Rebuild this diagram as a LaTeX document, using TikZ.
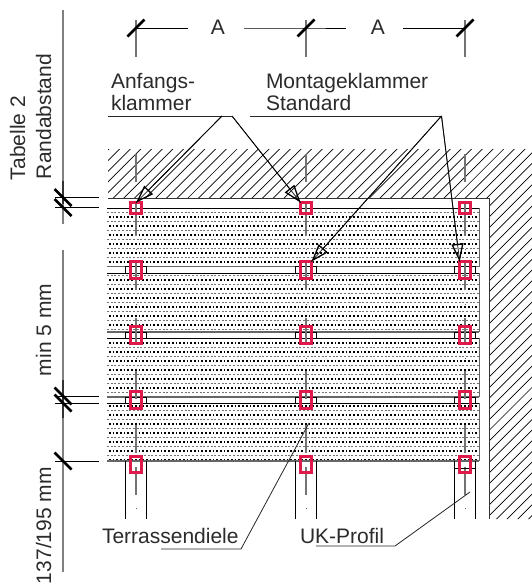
\documentclass[tikz,border=0pt]{standalone}
\usepackage{fontspec}
\setmainfont{Liberation Sans}
\usepackage{tikz}
\usetikzlibrary{arrows.meta,positioning}

\definecolor{klammerrot}{HTML}{E0194B}
\definecolor{textgrau}{HTML}{2B2B2B}

\tikzset{
	beschrift/.style={inner sep=0pt,outer sep=0pt,text=textgrau,anchor=base west,font=\fontsize{21}{22}\selectfont},
	beschriftblock/.style={beschrift,anchor=north west,align=left},
	klammer/.style={draw=klammerrot,line width=3.4pt,rectangle,inner sep=0pt,outer sep=0pt,minimum width=10.6pt},
	leader/.style={draw=black!85,line width=0.8pt},
	pfeil/.style={draw=black,line width=0.8pt,-{Triangle[open,length=18pt,width=12pt,line width=1.3pt]}},
	strich/.style={line width=2.6pt,black},
	mass/.style={black,line width=0.8pt},
	achse/.style={black!55,line width=1.1pt},
}

\begin{document}
\begin{tikzpicture}[x=1pt,y=-1pt]
	\useasboundingbox (0,0) rectangle (532,584);

	% wall
	\begin{scope}
		\clip (108,149) rectangle (532,198) (489,198) rectangle (532,519);
		\foreach \hx in {-6,...,80}
			\draw[black,line width=0.7pt] ({113.3+10.67*\hx-340},538) -- ({113.3+10.67*\hx+60},138);
	\end{scope}
	\draw[black!80,line width=1pt] (108,198) -- (489,198) -- (489,519);

	% planks
	\begin{scope}
		\clip (107,208) rectangle (479,267) (107,273) rectangle (479,332)
			(107,338) rectangle (479,397) (107,403) rectangle (479,461);
		\foreach \ry in {0,...,28} {
			\draw[black!55,line width=1.6pt,dash pattern=on 2pt off 1.7pt] (107,{212.5+9*\ry}) -- (479,{212.5+9*\ry});
			\draw[black,line width=1.2pt,dash pattern=on 1.7pt off 2pt,dash phase=1.8pt] (107,{217+9*\ry}) -- (479,{217+9*\ry});
		}
	\end{scope}
	\foreach \oben/\unten in {208/266.5,273/332,338/397,403/461} {
		\draw[black,line width=1pt] (107,\oben) -- (479,\oben);
		\draw[black!60,line width=1.4pt] (107,\unten) -- (479,\unten);
		\draw[black!60,line width=0.8pt] (479,\oben) -- (479,\unten);
	}

	% profiles
	\foreach \cx in {136,306,465} {
		\foreach \oben/\unten in {266.5/273,332/338,397/403}
			\draw[black,line width=0.8pt] (\cx-10.5,\oben) rectangle (\cx+10.5,\unten);
		\draw[black,line width=0.8pt] (\cx-10.5,519) -- (\cx-10.5,461) (\cx+10.5,461) -- (\cx+10.5,519);
		\foreach \von/\bis in {20/57,154/182,201/236,262/290,318/345,371/399,425/453,467/495}
			\draw[achse] (\cx,\von) -- (\cx,\bis);
		\foreach \punkt in {249,304,358,508}
			\fill[black!60] (\cx-0.5,\punkt) rectangle (\cx+0.5,\punkt+1);
	}
	\draw[black,line width=0.8pt] (454.5,468) -- (475.5,468);

	% clips
	\foreach \col/\cx in {1/136,2/306,3/465} {
		\node[klammer,minimum height=10.6pt] (k1\col) at (\cx,208) {};
		\node[klammer,minimum height=16.6pt] (k2\col) at (\cx,270) {};
		\node[klammer,minimum height=16.6pt] (k3\col) at (\cx,335) {};
		\node[klammer,minimum height=16.6pt] (k4\col) at (\cx,400) {};
		\node[klammer,minimum height=16pt] (k5\col) at (\cx,464.5) {};
	}

	% dimensions left
	\draw[black!50,line width=1.6pt] (63,10) -- (63,224) (63,250) -- (63,572);
	\draw[black!80,line width=1.6pt] (63,181) -- (63,204) (63,380) -- (63,418);
	\foreach \my in {197.5,207.5,396,403,461}
		\draw[mass] (55,\my) -- (99,\my);
	\foreach \my in {197.5,207.5,396,403,461}
		\draw[strich] (54.5,\my-8.5) -- (71.5,\my+8.5);

	% dimensions top
	\node[beschrift,anchor=base] (a1) at (218,34.5) {A};
	\node[beschrift,anchor=base] (a2) at (378,34.5) {A};
	\coordinate (m1) at (136,28);
	\coordinate (m2) at (306,28);
	\coordinate (m3) at (465,28);
	\draw[mass] (m1) -- (188,28) (244,28) -- (m2) -- (346,28) (403,28) -- (m3);
	\foreach \m in {m1,m2,m3}
		\draw[strich] ([shift={(-8.5,8.5)}]\m) -- ([shift={(8.5,-8.5)}]\m);

	% left labels
	\node[beschrift,rotate=90] (tabelle) at (25,180) {Tabelle 2};
	\node[beschrift,rotate=90] (rand) at (51,179) {Randabstand};
	\node[beschrift,rotate=90] (min) at (51,376) {min 5 mm};
	\node[beschrift,rotate=90] (breite) at (51,584) {137/195 mm};

	% callouts
	\node[beschriftblock] (anfang) at (111,73) {Anfangs-\\klammer};
	\node[beschriftblock] (montage) at (266,73) {Montageklammer\\Standard};
	\node[beschrift] (diele) at (102,543) {Terrassendiele};
	\node[beschrift] (profil) at (300,543) {UK-Profil};

	\coordinate (a0) at (108,116);
	\coordinate (a3) at (222,116);
	\coordinate (a4) at (232,116);
	\coordinate (s0) at (250,116);
	\coordinate (s1) at (441.5,116);
	\coordinate (d0) at (161,549);
	\coordinate (d1) at (241,549);
	\coordinate (d2) at (309,423);
	\coordinate (p0) at (316,546);
	\coordinate (p1) at (395,546);
	\coordinate (p2) at (470,492);

	\draw[leader,line width=0.9pt] (a0) -- (a4);
	\draw[leader,line width=0.9pt] (s0) -- (s1);
	\foreach \von/\nach in {a3/k11.north,a4/k12.north west,s1/k22.north east,s1/k23.north west} {
		\draw[leader] (\von) -- (\nach);
		\draw[pfeil] (\von) -- (\nach);
	}
	\draw[leader] (d0) -- (d1) -- (d2);
	\draw[leader] (p0) -- (p1) -- (p2);
\end{tikzpicture}
\end{document}
